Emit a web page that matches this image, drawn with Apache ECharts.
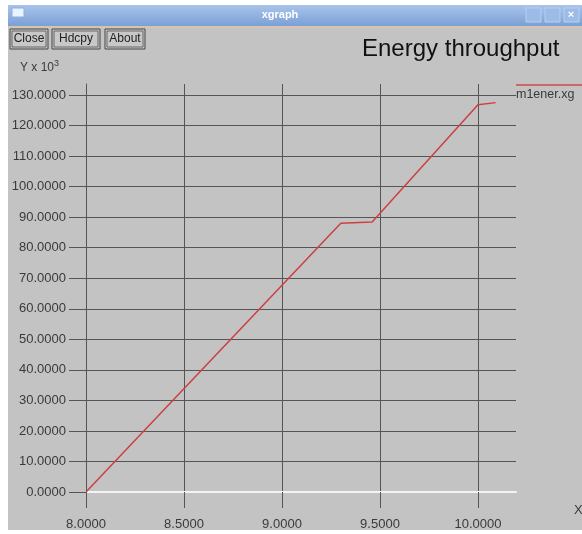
<!DOCTYPE html>
<html>
<head>
<meta charset="utf-8">
<script src="https://cdn.jsdelivr.net/npm/echarts@6/dist/echarts.min.js"></script>
<style>
html,body{margin:0;padding:0;background:#fff;}
#c{width:582px;height:534px;}
</style>
</head>
<body>
<div id="c"></div>
<script>
// Data (x in units, y in units of 10^3)
var xValues = [8.0, 9.30, 9.46, 10.0, 10.09];
var yValues = [0, 88.0, 88.4, 126.8, 127.5];
var xTicks = [8.0, 8.5, 9.0, 9.5, 10.0];
var yTicks = [0, 10, 20, 30, 40, 50, 60, 70, 80, 90, 100, 110, 120, 130];
var seriesName = 'm1ener.xg';
var chartTitle = 'Energy throughput';
var buttons = ['Close', 'Hdcpy', 'About'];

var data = xValues.map(function (x, i) { return [x, yValues[i]]; });
var chart = echarts.init(document.getElementById('c'));
var font = 'Liberation Sans, Arial, sans-serif';
var gridCol = '#555555';
var textCol = '#3a3a3a';

var graphics = [
  {type:'rect', shape:{x:0,y:0,width:8,height:534}, style:{fill:'#fff'}, z:100},
  {type:'rect', shape:{x:0,y:0,width:582,height:5}, style:{fill:'#fff'}, z:100},
  {type:'rect', shape:{x:0,y:530,width:582,height:4}, style:{fill:'#fff'}, z:100},
  {type:'rect', shape:{x:8,y:5,width:574,height:21}, z:100,
   style:{fill:new echarts.graphic.LinearGradient(0,0,0,1,[{offset:0,color:'#a9c4ea'},{offset:1,color:'#7aa0d6'}])}},
  {type:'rect', shape:{x:8,y:26,width:574,height:2}, style:{fill:'#d4c4b0'}, z:100},
  {type:'rect', shape:{x:12,y:8,width:12,height:9}, style:{fill:'#e8f4ff', stroke:'#8fb0d8'}, z:101},
  {type:'text', x:280, y:15, z:101, style:{text:'xgraph', fill:'#fff', font:'bold 11px '+font, align:'center', verticalAlign:'middle'}},
  {type:'rect', shape:{x:526,y:8,width:15,height:14}, style:{fill:'#9cbbe6', stroke:'#b8d0f0'}, z:101},
  {type:'rect', shape:{x:545,y:8,width:15,height:14}, style:{fill:'#9cbbe6', stroke:'#b8d0f0'}, z:101},
  {type:'rect', shape:{x:564,y:8,width:15,height:14}, style:{fill:'#9cbbe6', stroke:'#b8d0f0'}, z:101},
  {type:'text', x:571, y:15, z:102, style:{text:'×', fill:'#fff', font:'bold 11px '+font, align:'center', verticalAlign:'middle'}},
  {type:'text', x:20, y:68, z:101, style:{text:'Y x 10{s|3}', fill:textCol, font:'12px '+font, verticalAlign:'middle',
     rich:{s:{fontSize:9, verticalAlign:'top', padding:[0,0,8,0], fill:textCol}}}},
  {type:'text', x:574, y:510, z:101, style:{text:'X', fill:textCol, font:'13px '+font, verticalAlign:'middle'}},
  {type:'line', shape:{x1:516,y1:85,x2:582,y2:85}, style:{stroke:'#d04848', lineWidth:1.5}, z:101},
  {type:'text', x:516, y:95, z:101, style:{text:seriesName, fill:textCol, font:'12.5px '+font, verticalAlign:'middle'}}
];
var bx = [10, 52, 105], bw = [38, 48, 40];
buttons.forEach(function (b, i) {
  graphics.push({type:'rect', shape:{x:bx[i], y:29, width:bw[i], height:20}, style:{fill:'#c8c8c8', stroke:'#444', lineWidth:1}, z:101});
  graphics.push({type:'rect', shape:{x:bx[i]+2, y:31, width:bw[i]-4, height:16}, style:{fill:'none', stroke:'#666', lineWidth:1}, z:101});
  graphics.push({type:'text', x:bx[i]+bw[i]/2, y:39, z:102, style:{text:b, fill:'#222', font:'12px '+font, align:'center', verticalAlign:'middle'}});
});

chart.setOption({
  backgroundColor: '#c3c3c3',
  animation: false,
  title: {text: chartTitle, left: 357, top: 32, textStyle:{fontFamily:font, fontSize:24, fontWeight:'normal', color:'#111'}},
  grid: {left: 86, right: 66, top: 84, bottom: 42},
  xAxis: {
    type: 'value', min: 8, max: 10.194, interval: 0.5,
    axisLine: {show:true, lineStyle:{color:'#f4f4f4', width:2}},
    axisTick: {show:true, inside:false, length:16, customValues: xTicks, lineStyle:{color:gridCol}},
    axisLabel: {margin: 26, customValues: xTicks, color:textCol, fontFamily:font, fontSize:13,
      formatter: function (v) { return v.toFixed(4); }},
    splitLine: {show:true, lineStyle:{color:gridCol, width:1}}
  },
  yAxis: {
    type: 'value', min: 0, max: 133.6, interval: 10,
    axisLine: {show:true, lineStyle:{color:gridCol}},
    axisTick: {show:true, inside:false, length:17, customValues: yTicks, lineStyle:{color:gridCol}},
    axisLabel: {margin: 20, customValues: yTicks, color:textCol, fontFamily:font, fontSize:13,
      formatter: function (v) { return v.toFixed(4); }},
    splitLine: {show:true, lineStyle:{color:gridCol, width:1}}
  },
  series: [{
    name: seriesName, type: 'line', data: data, symbol: 'none',
    lineStyle: {color:'#cc4040', width:1.5}, z: 5
  }],
  graphic: graphics
});
</script>
</body>
</html>
